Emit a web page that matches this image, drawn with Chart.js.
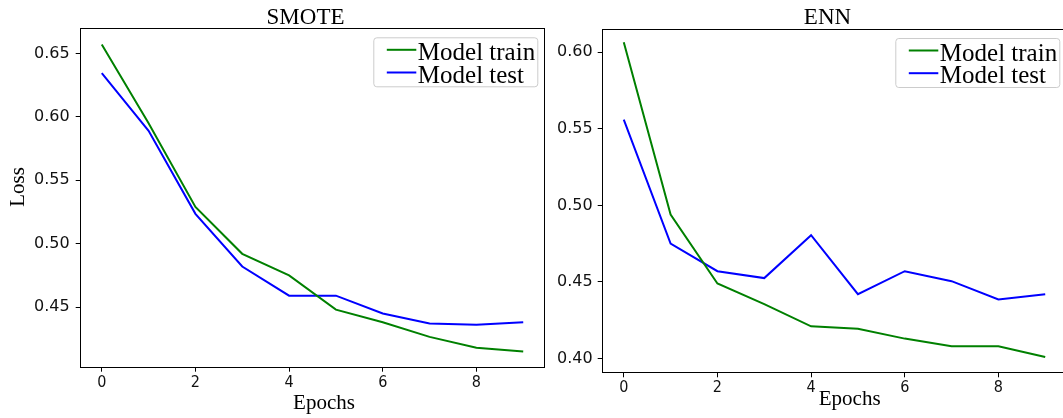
<!DOCTYPE html>
<html>
<head>
<meta charset="utf-8">
<script src="https://cdn.jsdelivr.net/npm/chart.js@4.4.1/dist/chart.umd.min.js"></script>
<style>
  html, body { margin: 0; padding: 0; background: #fff; overflow: hidden; width: 1063px; height: 418px; }
  canvas { position: absolute; top: 0; }
</style>
</head>
<body>
<canvas id="smote" width="550" height="418" style="left:0px;width:550px;height:418px"></canvas>
<canvas id="enn" width="545" height="418" style="left:530px;width:545px;height:418px"></canvas>
<script>
// values
const epochs = [0, 1, 2, 3, 4, 5, 6, 7, 8, 9];
const smoteTrain = [0.657, 0.595, 0.529, 0.492, 0.475, 0.448, 0.438, 0.4265, 0.418, 0.415];
const smoteTest = [0.6345, 0.589, 0.5235, 0.482, 0.459, 0.459, 0.445, 0.437, 0.436, 0.438];
const ennTrain = [0.6065, 0.494, 0.449, 0.4355, 0.421, 0.4195, 0.413, 0.408, 0.408, 0.401];
const ennTest = [0.556, 0.475, 0.457, 0.4525, 0.4805, 0.442, 0.457, 0.4505, 0.4385, 0.442];
const xTicks = [0, 2, 4, 6, 8];
const smoteYTicks = [0.45, 0.50, 0.55, 0.60, 0.65];
const ennYTicks = [0.40, 0.45, 0.50, 0.55, 0.60];
const seriesLabels = ['Model train', 'Model test'];
const seriesColors = ['#008000', '#0000ff'];

const serif = '"Liberation Serif", "Times New Roman", serif';
const tickFontY = { family: '"DejaVu Sans", sans-serif', size: 16 };
const tickFontX = { family: '"DejaVu Sans Condensed", "DejaVu Sans", sans-serif', size: 16 };

// titles, axis labels, frame and legend
const decor = {
  id: 'decor',
  afterDraw(chart, args, o) {
    const ctx = chart.ctx;
    const a = chart.chartArea;
    ctx.save();
    ctx.strokeStyle = '#000';
    ctx.lineWidth = 1;
    ctx.strokeRect(Math.round(a.left) - 0.5, Math.round(a.top) - 0.5,
      Math.round(a.right) - Math.round(a.left) + 1, Math.round(a.bottom) - Math.round(a.top) + 1);

    ctx.fillStyle = '#000';
    ctx.textAlign = 'center';
    ctx.textBaseline = 'alphabetic';
    ctx.font = '23px ' + serif;
    ctx.fillText(o.title, (a.left + a.right) / 2 - 7, 24);
    ctx.font = '21px ' + serif;
    ctx.fillText('Epochs', o.xLabelX, o.xLabelY);
    if (o.yLabel) {
      ctx.save();
      ctx.translate(24, (a.top + a.bottom) / 2 - 11);
      ctx.rotate(-Math.PI / 2);
      ctx.fillText(o.yLabel, 0, 0);
      ctx.restore();
    }

    // legend
    const w = 164, h = 49;
    const bx = a.right - 7 - w, by = a.top + 8;
    ctx.beginPath();
    ctx.roundRect(bx + 0.5, by + 0.5, w, h, 3);
    ctx.fillStyle = 'rgba(255,255,255,0.85)';
    ctx.fill();
    ctx.strokeStyle = '#cccccc';
    ctx.stroke();
    ctx.font = '25px ' + serif;
    ctx.textAlign = 'left';
    chart.data.datasets.forEach((ds, i) => {
      const ly = by + 12.5 + i * 22.7;
      ctx.strokeStyle = ds.borderColor;
      ctx.lineWidth = 2;
      ctx.beginPath();
      ctx.moveTo(bx + 13.5, ly);
      ctx.lineTo(bx + 43, ly);
      ctx.stroke();
      ctx.fillStyle = '#000';
      ctx.fillText(ds.label, bx + 44.5, ly + 10);
    });
    ctx.restore();
  }
};

function makeChart(id, train, test, yTicks, opt) {
  const sets = [train, test].map((vals, i) => ({
    label: seriesLabels[i],
    data: epochs.map((e, j) => ({ x: e, y: vals[j] })),
    borderColor: seriesColors[i],
    borderWidth: 2,
    pointRadius: 0,
    tension: 0,
    fill: false
  }));
  return new Chart(document.getElementById(id), {
    type: 'line',
    data: { datasets: sets },
    options: {
      responsive: false,
      animation: false,
      devicePixelRatio: 1,
      layout: { padding: { top: opt.top, right: opt.right, left: 0, bottom: 0 } },
      plugins: {
        legend: { display: false },
        tooltip: { enabled: false },
        decor: opt.decor
      },
      scales: {
        x: {
          type: 'linear',
          min: -0.45,
          max: 9.45,
          afterBuildTicks: s => { s.ticks = xTicks.map(v => ({ value: v })); },
          afterFit: s => { s.height = opt.xHeight; },
          ticks: { font: tickFontX, color: '#111', padding: opt.xPad, callback: v => String(v), maxRotation: 0 },
          grid: { drawOnChartArea: false, drawTicks: true, tickLength: 5, color: '#000' },
          border: { display: false }
        },
        y: {
          min: opt.yMin,
          max: opt.yMax,
          afterBuildTicks: s => { s.ticks = yTicks.map(v => ({ value: v })); },
          afterFit: s => { s.width = opt.yWidth; },
          ticks: { font: tickFontY, color: '#111', padding: opt.yPad, callback: v => v.toFixed(2) },
          grid: { drawOnChartArea: false, drawTicks: true, tickLength: 5, color: '#000' },
          border: { display: false }
        }
      }
    },
    plugins: [decor]
  });
}

makeChart('smote', smoteTrain, smoteTest, smoteYTicks, {
  top: 29.3, right: 5.7, xHeight: 51.3, yWidth: 80.7, xPad: 2, yPad: 6,
  yMin: 0.403, yMax: 0.669,
  decor: { title: 'SMOTE', yLabel: 'Loss', xLabelX: 324, xLabelY: 409 }
});

makeChart('enn', ennTrain, ennTest, ennYTicks, {
  top: 30, right: 8.7, xHeight: 45.7, yWidth: 72.7, xPad: 1, yPad: 5,
  yMin: 0.391, yMax: 0.6145,
  decor: { title: 'ENN', yLabel: null, xLabelX: 849.7 - 530, xLabelY: 404.5 }
});
</script>
</body>
</html>
